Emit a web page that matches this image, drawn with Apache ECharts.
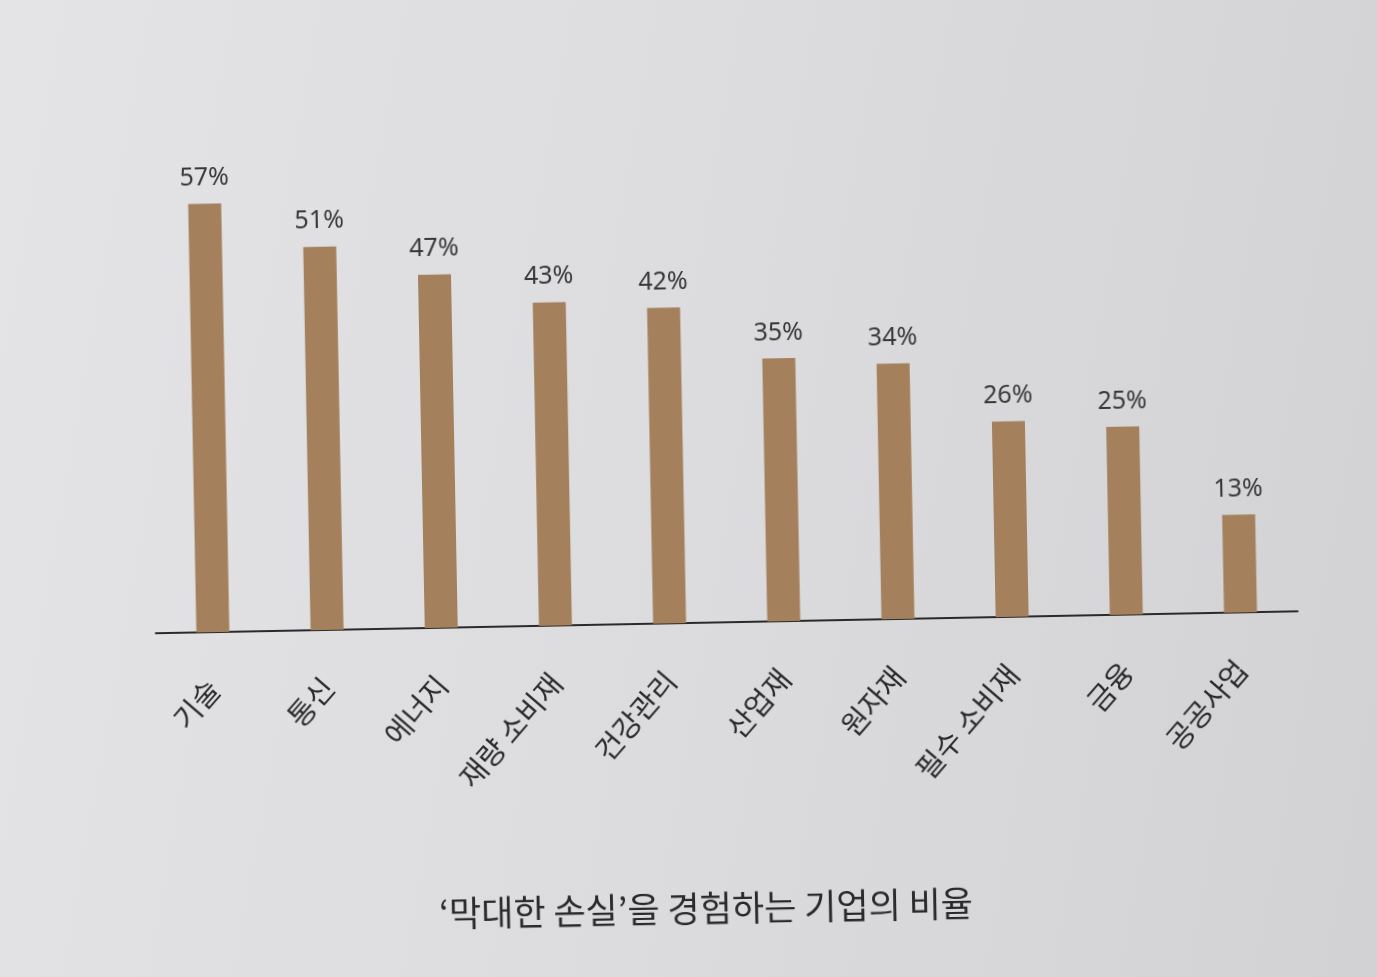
<!DOCTYPE html>
<html><head><meta charset="utf-8">
<script src="https://cdn.jsdelivr.net/npm/echarts@6/dist/echarts.min.js"></script>
<style>
html,body{margin:0;padding:0;width:1377px;height:977px;overflow:hidden;
background:linear-gradient(100deg,#e4e4e6 0%,#dcdcde 50%,#d2d2d4 100%);}
#c{width:1377px;height:977px;transform:rotate(-1.1deg);transform-origin:50% 60%;}
</style></head><body><div id="c"></div>
<script>
const categories = ['기술','통신','에너지','재량 소비재','건강관리','산업재','원자재','필수 소비재','금융','공공사업'];
const values = [57,51,47,43,42,35,34,26,25,13];
const titleText = '‘막대한 손실’을 경험하는 기업의 비율';

const chart = echarts.init(document.getElementById('c'), null, {renderer:'canvas'});
chart.setOption({
  backgroundColor:'transparent',
  animation:false,
  title:{text:titleText,left:428,top:886,
    textStyle:{fontFamily:'Noto Sans CJK KR',fontSize:35,fontWeight:'normal',color:'#2a2a2c'}},
  grid:{left:155,right:80,top:172,bottom:354},
  xAxis:{type:'category',data:categories,
    axisLine:{lineStyle:{color:'#2a2a2a',width:2}},
    axisTick:{show:false},
    axisLabel:{rotate:48,margin:52,interval:0,padding:[34,0,0,0],
      fontFamily:'Noto Sans CJK KR',fontSize:29,color:'#2a2a2c'}},
  yAxis:{type:'value',min:0,max:60,show:false,splitLine:{show:false}},
  series:[{type:'bar',data:values,barWidth:33,
    itemStyle:{color:'#a5805c'},
    label:{show:true,position:'top',distance:13,formatter:'{c}%',
      fontFamily:'Noto Sans',fontSize:25,color:'#38383a'}}]
});
</script></body></html>
